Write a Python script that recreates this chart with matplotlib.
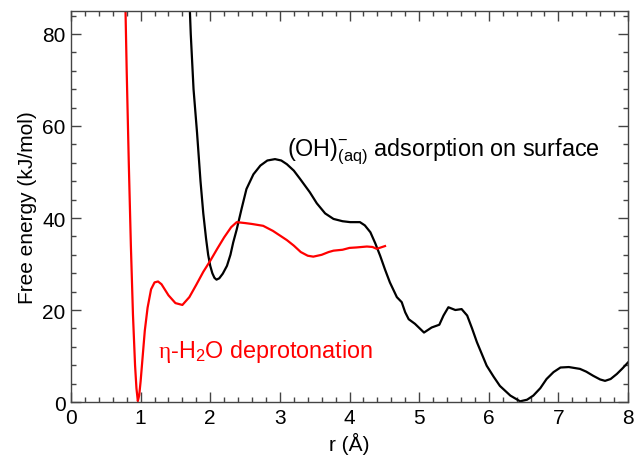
import matplotlib
matplotlib.use('Agg')
import matplotlib.pyplot as plt
from matplotlib.ticker import MultipleLocator

plt.rcParams['font.family'] = ['Liberation Sans', 'DejaVu Sans']
plt.rcParams['mathtext.fontset'] = 'custom'
plt.rcParams['mathtext.rm'] = 'Liberation Sans'
plt.rcParams['mathtext.it'] = 'Liberation Serif'

# eta-H2O deprotonation (red)
r_red = [0.77, 0.80, 0.83, 0.86, 0.89, 0.92, 0.94, 0.96, 0.98, 1.00, 1.03, 1.06, 1.10,
         1.15, 1.20, 1.25, 1.30, 1.40, 1.50, 1.60, 1.70, 1.80, 1.90, 2.00, 2.10,
         2.20, 2.30, 2.38, 2.50, 2.60, 2.76, 2.90, 3.00, 3.10, 3.20, 3.30, 3.40,
         3.48, 3.60, 3.70, 3.77, 3.90, 4.00, 4.10, 4.25, 4.33, 4.39, 4.45, 4.51]
g_red = [95, 72, 52, 34, 19, 8, 3, 0.2, 1.5, 4.5, 10, 15.5, 20.5,
         24.5, 26.0, 26.2, 25.6, 23.2, 21.5, 21.1, 22.8, 25.5, 28.3, 30.7, 33.3,
         35.8, 38.0, 39.1, 38.9, 38.7, 38.3, 37.2, 36.2, 35.2, 34.0, 32.6, 31.8,
         31.6, 32.0, 32.6, 32.9, 33.1, 33.5, 33.6, 33.8, 33.7, 33.3, 33.6, 33.9]

# (OH)- adsorption on surface (black)
r_blk = [1.69, 1.72, 1.76, 1.81, 1.86, 1.90, 1.94, 1.97, 2.00, 2.03, 2.06, 2.09, 2.13,
         2.18, 2.24, 2.29, 2.33, 2.38, 2.45, 2.52, 2.62, 2.72, 2.82, 2.93, 3.02,
         3.10, 3.20, 3.29, 3.43, 3.53, 3.65, 3.77, 3.90, 4.01, 4.15, 4.22, 4.30,
         4.37, 4.44, 4.51, 4.58, 4.68, 4.75, 4.80, 4.85, 4.94, 5.07, 5.18, 5.29,
         5.35, 5.42, 5.47, 5.52, 5.61, 5.69, 5.76, 5.83, 5.97, 6.07, 6.16, 6.31,
         6.45, 6.55, 6.64, 6.74, 6.83, 6.93, 7.03, 7.15, 7.31, 7.40, 7.50, 7.60,
         7.67, 7.75, 7.84, 7.92, 8.00]
g_blk = [92, 80, 68, 58.6, 48, 41.0, 35.5, 32.0, 29.6, 28.0, 27.0, 26.6, 26.9,
         27.9, 29.6, 32.0, 34.7, 37.5, 42.0, 46.3, 49.5, 51.4, 52.5, 52.8, 52.5,
         51.7, 50.3, 48.5, 45.6, 43.2, 41.0, 39.8, 39.3, 39.1, 39.1, 38.4, 36.9,
         34.5, 31.8, 28.8, 26.0, 22.8, 21.7, 19.5, 18.0, 17.0, 15.1, 16.2, 16.8,
         18.8, 20.6, 20.3, 20.0, 20.2, 18.8, 16.0, 13.0, 7.9, 5.5, 3.5, 1.4,
         0.15, 0.5, 1.4, 3.0, 5.0, 6.5, 7.5, 7.6, 7.2, 6.6, 5.7, 4.9,
         4.6, 5.0, 6.1, 7.3, 8.6]

fig = plt.figure(figsize=(6.35, 4.56), dpi=100)
ax = fig.add_axes([0.1118, 0.1162, 0.8772, 0.8575])

ax.plot(r_blk, g_blk, color='black', lw=1.6)
ax.plot(r_red, g_red, color='red', lw=1.6)

ax.set_xlim(0, 8)
ax.set_ylim(0, 85)
ax.xaxis.set_major_locator(MultipleLocator(1))
ax.xaxis.set_minor_locator(MultipleLocator(0.2))
ax.yaxis.set_major_locator(MultipleLocator(20))
ax.yaxis.set_minor_locator(MultipleLocator(4))
ax.tick_params(which='both', direction='in', top=True, right=True,
               labelsize=15, color='#444444', width=1)
ax.tick_params(which='major', length=7, pad=4)
ax.tick_params(which='minor', length=3.5)
for s in ax.spines.values():
    s.set_color('#444444')
    s.set_linewidth(1)

ax.set_xlabel('r (Å)', fontsize=15, labelpad=4)
ax.set_ylabel('Free energy (kJ/mol)', fontsize=15, labelpad=4)

ax.text(3.1, 54.5, r'(OH)$^{-}_{\rm (aq)}$ adsorption on surface', fontsize=16.8,
        color='black', ha='left', va='center')
ax.text(1.25, 11.3, r'$\eta$-H$_2$O deprotonation', fontsize=16.8,
        color='red', ha='left', va='center')

plt.savefig('out.png', dpi=100)
